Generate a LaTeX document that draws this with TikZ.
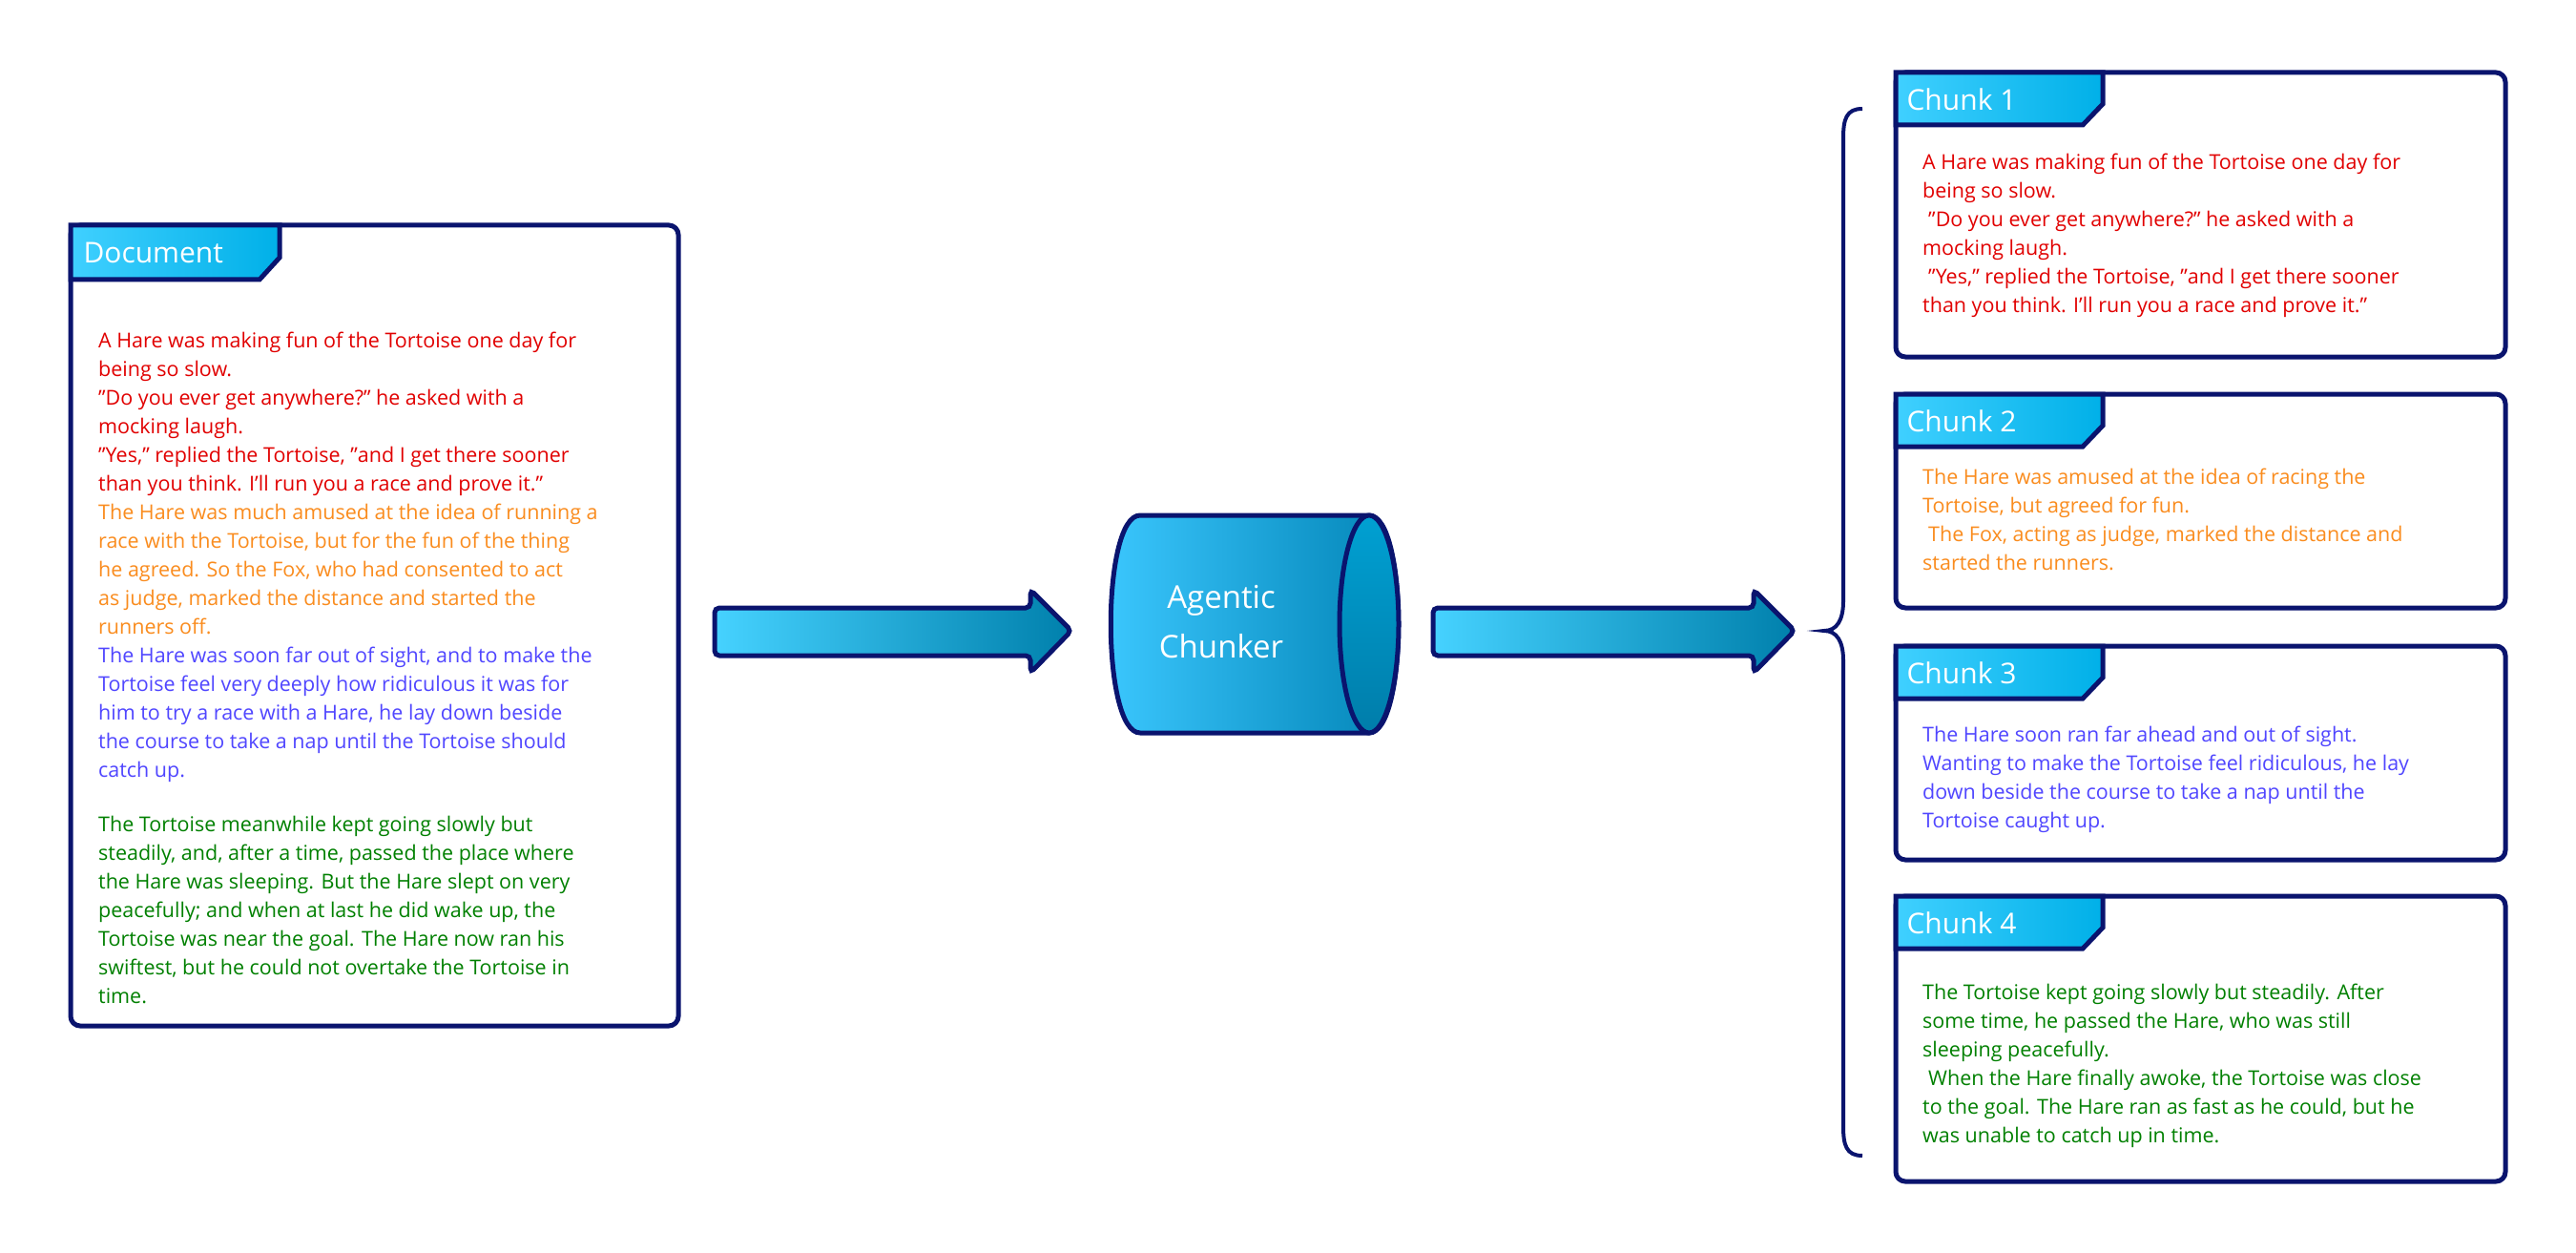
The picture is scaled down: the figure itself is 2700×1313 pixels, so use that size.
\documentclass[tikz,border=0pt]{standalone}
\usepackage{fontspec}
\setmainfont{Open Sans}
\begin{document}
\begin{tikzpicture}[x=1pt,y=-1pt,
  navy/.style={draw={rgb,255:red,10;green,20;blue,110}},
  box/.style={navy,line width=5pt,rounded corners=10pt,fill=white},
  tab/.style={navy,line width=5pt,left color={rgb,255:red,64;green,208;blue,255},right color={rgb,255:red,0;green,176;blue,232}},
  ttl/.style={anchor=west,text=white,font=\fontsize{30}{36}\selectfont},
  txt/.style={anchor=north west,align=left,inner sep=0pt,font=\fontsize{21.5}{30}\selectfont},
  arr/.style={navy,line width=5pt,rounded corners=5pt,left color={rgb,255:red,70;green,210;blue,255},middle color={rgb,255:red,0;green,180;blue,236},right color={rgb,255:red,0;green,128;blue,172}}]
\definecolor{tred}{RGB}{225,0,0}
\definecolor{torg}{RGB}{250,140,30}
\definecolor{tblu}{RGB}{80,70,255}
\definecolor{tgrn}{RGB}{0,128,0}
\useasboundingbox (0,0) rectangle (2700,1313);
% Document
\draw[box] (74,236) rectangle (711,1075);
\draw[tab] (74,236) -- (293,236) -- (293,270) -- (272,293) -- (74,293) -- cycle;
\node[ttl] (doct) at (84,265) {Document};
\node[txt,text=tred] (d1) at (103,348) {A Hare was making fun of the Tortoise one day for\\being so slow.\\"Do you ever get anywhere?" he asked with a\\mocking laugh.\\"Yes," replied the Tortoise, "and I get there sooner\\than you think. I'll run you a race and prove it."};
\node[txt,text=torg] (d2) at (103,528) {The Hare was much amused at the idea of running a\\race with the Tortoise, but for the fun of the thing\\he agreed. So the Fox, who had consented to act\\as judge, marked the distance and started the\\runners off.};
\node[txt,text=tblu] (d3) at (103,678) {The Hare was soon far out of sight, and to make the\\Tortoise feel very deeply how ridiculous it was for\\him to try a race with a Hare, he lay down beside\\the course to take a nap until the Tortoise should\\catch up.};
\node[txt,text=tgrn] (d4) at (103,855) {The Tortoise meanwhile kept going slowly but\\steadily, and, after a time, passed the place where\\the Hare was sleeping. But the Hare slept on very\\peacefully; and when at last he did wake up, the\\Tortoise was near the goal. The Hare now ran his\\swiftest, but he could not overtake the Tortoise in\\time.};
% Arrow 1
\draw[arr] (749,637) -- (1080,637) -- (1080,618) -- (1123,661) -- (1080,705) -- (1080,687) -- (749,687) -- cycle;
% Cylinder
\draw[navy,line width=5pt,left color={rgb,255:red,60;green,200;blue,255},right color={rgb,255:red,0;green,130;blue,180}]
  (1195,540) -- (1435,540) .. controls (1476,540) and (1476,768) .. (1435,768) -- (1195,768) .. controls (1154,768) and (1154,540) .. (1195,540) -- cycle;
\draw[navy,line width=5pt,top color={rgb,255:red,0;green,160;blue,210},bottom color={rgb,255:red,0;green,125;blue,170}] (1435,654) ellipse[x radius=31,y radius=114];
\node[text=white,align=center,font=\fontsize{33}{52}\selectfont] (ch) at (1280,652) {Agentic\\Chunker};
% Arrow 2
\draw[arr] (1502,637) -- (1838,637) -- (1838,618) -- (1881,661) -- (1838,705) -- (1838,687) -- (1502,687) -- cycle;
% Brace
\draw[navy,line width=4pt] (1952,114) .. controls (1935,114) and (1932,125) .. (1932,145) -- (1932,630) .. controls (1932,650) and (1925,661) .. (1912,661) .. controls (1925,661) and (1932,672) .. (1932,692) -- (1932,1180) .. controls (1932,1200) and (1935,1211) .. (1952,1211);
% Chunks
\foreach \n/\ya/\yb in {1/76/374,2/413/637,3/677/901,4/939/1238}{
  \draw[box] (1987,\ya) rectangle (2626,\yb);
  \draw[tab] (1987,\ya) -- (2204,\ya) -- (2204,\ya+33) -- (2183,\ya+55) -- (1987,\ya+55) -- cycle;
  \node[ttl] (c\n) at (1995,\ya+28) {Chunk \n};
}
\node[txt,text=tred] (t1) at (2015,161) {A Hare was making fun of the Tortoise one day for\\being so slow.\\\hspace*{6pt}"Do you ever get anywhere?" he asked with a\\mocking laugh.\\\hspace*{6pt}"Yes," replied the Tortoise, "and I get there sooner\\than you think. I'll run you a race and prove it."};
\node[txt,text=torg] (t2) at (2015,491) {The Hare was amused at the idea of racing the\\Tortoise, but agreed for fun.\\\hspace*{6pt}The Fox, acting as judge, marked the distance and\\started the runners.};
\node[txt,text=tblu] (t3) at (2015,761) {The Hare soon ran far ahead and out of sight.\\Wanting to make the Tortoise feel ridiculous, he lay\\down beside the course to take a nap until the\\Tortoise caught up.};
\node[txt,text=tgrn] (t4) at (2015,1031) {The Tortoise kept going slowly but steadily. After\\some time, he passed the Hare, who was still\\sleeping peacefully.\\\hspace*{6pt}When the Hare finally awoke, the Tortoise was close\\to the goal. The Hare ran as fast as he could, but he\\was unable to catch up in time.};
\end{tikzpicture}
\end{document}
